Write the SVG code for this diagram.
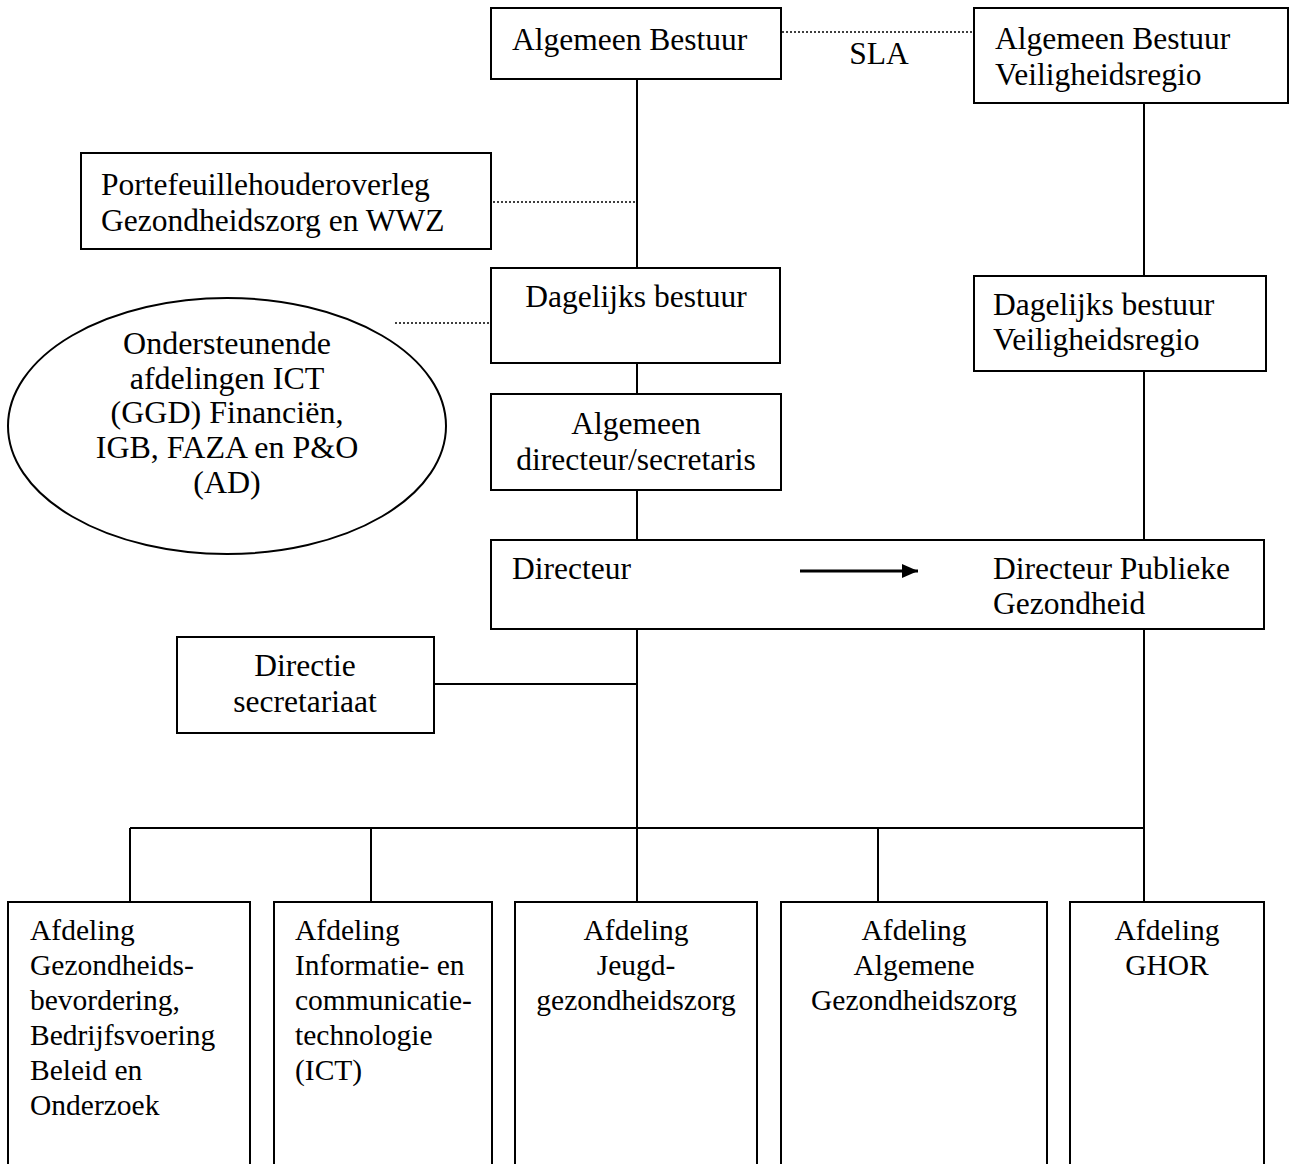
<svg xmlns="http://www.w3.org/2000/svg" width="1313" height="1164" viewBox="0 0 1313 1164">
<style>
rect.b{fill:#fff;stroke:#000;stroke-width:2}
ellipse.b{fill:#fff;stroke:#000;stroke-width:2}
text{font-family:"Liberation Serif","Times New Roman",serif;font-size:31.5px;fill:#000}
text.s{font-size:29.5px}
text.e{font-size:32px}
.c{text-anchor:middle}
.ln{stroke:#000;stroke-width:2;fill:none}
.ar{stroke:#000;stroke-width:3;fill:none}
.dt{stroke:#000;stroke-width:1.5;stroke-dasharray:2 2;fill:none}
</style>
<defs>
<marker id="ah" markerWidth="16" markerHeight="14" refX="16" refY="7" orient="auto" markerUnits="userSpaceOnUse" viewBox="0 0 16 14">
<path d="M0,0 L16,7 L0,14 z" fill="#000"/>
</marker>
</defs>
<rect width="1313" height="1164" fill="#fff"/>
<g id="ab">
<rect class="b" x="491" y="8" width="290" height="71"/>
<text x="512" y="50">Algemeen Bestuur</text>
</g>
<g id="abvr">
<rect class="b" x="974" y="8" width="314" height="95"/>
<text x="995" y="49">Algemeen Bestuur</text>
<text x="995" y="85">Veiligheidsregio</text>
</g>
<g id="pho">
<rect class="b" x="81" y="153" width="410" height="96"/>
<text x="101" y="195">Portefeuillehouderoverleg</text>
<text x="101" y="231">Gezondheidszorg en WWZ</text>
</g>
<g id="db">
<rect class="b" x="491" y="268" width="289" height="95"/>
<text class="c" x="636" y="307">Dagelijks bestuur</text>
</g>
<g id="ond">
<ellipse class="b" cx="227" cy="426" rx="219" ry="128"/>
<text class="c e" x="227" y="354">Ondersteunende</text>
<text class="c e" x="227" y="389">afdelingen ICT</text>
<text class="c e" x="227" y="423">(GGD) Financiën,</text>
<text class="c e" x="227" y="458">IGB, FAZA en P&amp;O</text>
<text class="c e" x="227" y="493">(AD)</text>
</g>
<g id="dbvr">
<rect class="b" x="974" y="276" width="292" height="95"/>
<text x="993" y="315">Dagelijks bestuur</text>
<text x="993" y="350">Veiligheidsregio</text>
</g>
<g id="ads">
<rect class="b" x="491" y="394" width="290" height="96"/>
<text class="c" x="636" y="434">Algemeen</text>
<text class="c" x="636" y="470">directeur/secretaris</text>
</g>
<g id="dir">
<rect class="b" x="491" y="540" width="773" height="89"/>
<text x="512" y="579">Directeur</text>
<text x="993" y="579">Directeur Publieke</text>
<text x="993" y="614">Gezondheid</text>
</g>
<g id="ds">
<rect class="b" x="177" y="637" width="257" height="96"/>
<text class="c" x="305" y="676">Directie</text>
<text class="c" x="305" y="712">secretariaat</text>
</g>
<g id="a1">
<rect class="b" x="8" y="902" width="242" height="270"/>
<text class="s" x="30" y="940">Afdeling</text>
<text class="s" x="30" y="975">Gezondheids-</text>
<text class="s" x="30" y="1010">bevordering,</text>
<text class="s" x="30" y="1045">Bedrijfsvoering</text>
<text class="s" x="30" y="1080">Beleid en</text>
<text class="s" x="30" y="1115">Onderzoek</text>
</g>
<g id="a2">
<rect class="b" x="274" y="902" width="218" height="270"/>
<text class="s" x="295" y="940">Afdeling</text>
<text class="s" x="295" y="975">Informatie- en</text>
<text class="s" x="295" y="1010">communicatie-</text>
<text class="s" x="295" y="1045">technologie</text>
<text class="s" x="295" y="1080">(ICT)</text>
</g>
<g id="a3">
<rect class="b" x="515" y="902" width="242" height="270"/>
<text class="c s" x="636" y="940">Afdeling</text>
<text class="c s" x="636" y="975">Jeugd-</text>
<text class="c s" x="636" y="1010">gezondheidszorg</text>
</g>
<g id="a4">
<rect class="b" x="781" y="902" width="266" height="270"/>
<text class="c s" x="914" y="940">Afdeling</text>
<text class="c s" x="914" y="975">Algemene</text>
<text class="c s" x="914" y="1010">Gezondheidszorg</text>
</g>
<g id="a5">
<rect class="b" x="1070" y="902" width="194" height="270"/>
<text class="c s" x="1167" y="940">Afdeling</text>
<text class="c s" x="1167" y="975">GHOR</text>
</g>
<g id="connectors">
<line class="dt" x1="782" y1="32" x2="973" y2="32"/>
<line class="dt" x1="493" y1="202" x2="636" y2="202"/>
<line class="dt" x1="395" y1="323" x2="490" y2="323"/>
<line class="ln" x1="637" y1="80" x2="637" y2="267"/>
<line class="ln" x1="637" y1="364" x2="637" y2="393"/>
<line class="ln" x1="637" y1="491" x2="637" y2="539"/>
<line class="ln" x1="1144" y1="104" x2="1144" y2="275"/>
<line class="ln" x1="1144" y1="372" x2="1144" y2="539"/>
<line class="ln" x1="637" y1="630" x2="637" y2="901"/>
<line class="ln" x1="1144" y1="630" x2="1144" y2="901"/>
<line class="ln" x1="435" y1="684" x2="637" y2="684"/>
<line class="ln" x1="130" y1="828" x2="1144" y2="828"/>
<line class="ln" x1="130" y1="828" x2="130" y2="901"/>
<line class="ln" x1="371" y1="828" x2="371" y2="901"/>
<line class="ln" x1="878" y1="828" x2="878" y2="901"/>
<line class="ar" x1="800" y1="571" x2="918" y2="571" marker-end="url(#ah)"/>
<text class="c" x="879" y="64">SLA</text>
</g>
</svg>
